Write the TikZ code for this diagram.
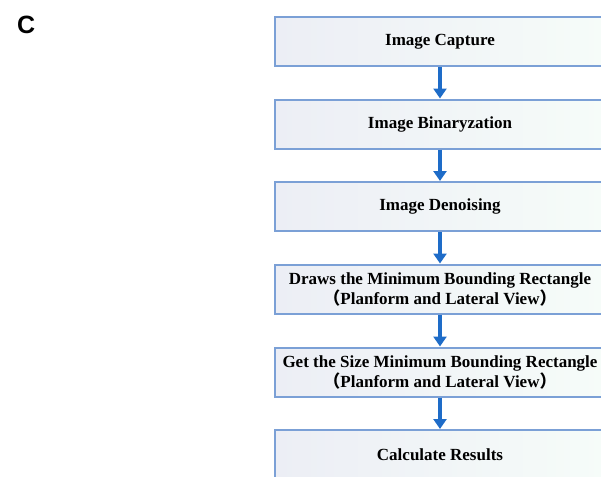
\documentclass[tikz,border=0pt]{standalone}
\usepackage{fontspec}
\setmainfont{Liberation Serif}
\newfontfamily\labelfont{Liberation Sans}
\newfontfamily\cjk{Noto Sans CJK SC}
\usepackage{xcolor}
\usetikzlibrary{arrows.meta,positioning}
\definecolor{stepBorder}{HTML}{7BA0D6}
\definecolor{stepLeft}{HTML}{ECEEF5}
\definecolor{stepRight}{HTML}{F6FCF9}
\definecolor{flowBlue}{HTML}{1E6CC8}

\begin{document}
\begin{tikzpicture}[x=0.5pt,y=-0.5pt,
        stepbox/.style={draw=stepBorder, line width=1pt, left color=stepLeft, right color=stepRight,
            minimum width=165pt, minimum height=24.5pt, align=center,
            font=\fontsize{8.5}{10}\selectfont\bfseries, inner sep=0pt},
        flow/.style={-{Triangle[length=5pt,width=6.5pt]}, line width=1.6pt, flowBlue}
    ]
        \useasboundingbox (0,0) rectangle (601,477);
        \clip (0,0) rectangle (601,477);

        \node[font=\labelfont\bfseries\fontsize{12.5}{14}\selectfont, anchor=base west] (panel) at (10,33) {C};

        \node[stepbox] (capture) at (440,41.5) {Image Capture};
        \node[stepbox] (binary) at (440,124) {Image Binaryzation};
        \node[stepbox] (denoise) at (440,206.5) {Image Denoising};
        \node[stepbox] (draw) at (440,289) {
            Draws the Minimum Bounding Rectangle\\
            {\cjk （}Planform and Lateral View{\cjk ）}
        };
        \node[stepbox] (size) at (440,372) {
            Get the Size Minimum Bounding Rectangle\\
            {\cjk （}Planform and Lateral View{\cjk ）}
        };
        \node[stepbox] (result) at (440,454.5) {Calculate Results};

        \draw[flow] (capture) -- (binary);
        \draw[flow] (binary) -- (denoise);
        \draw[flow] (denoise) -- (draw);
        \draw[flow] (draw) -- (size);
        \draw[flow] (size) -- (result);
    \end{tikzpicture}
\end{document}
